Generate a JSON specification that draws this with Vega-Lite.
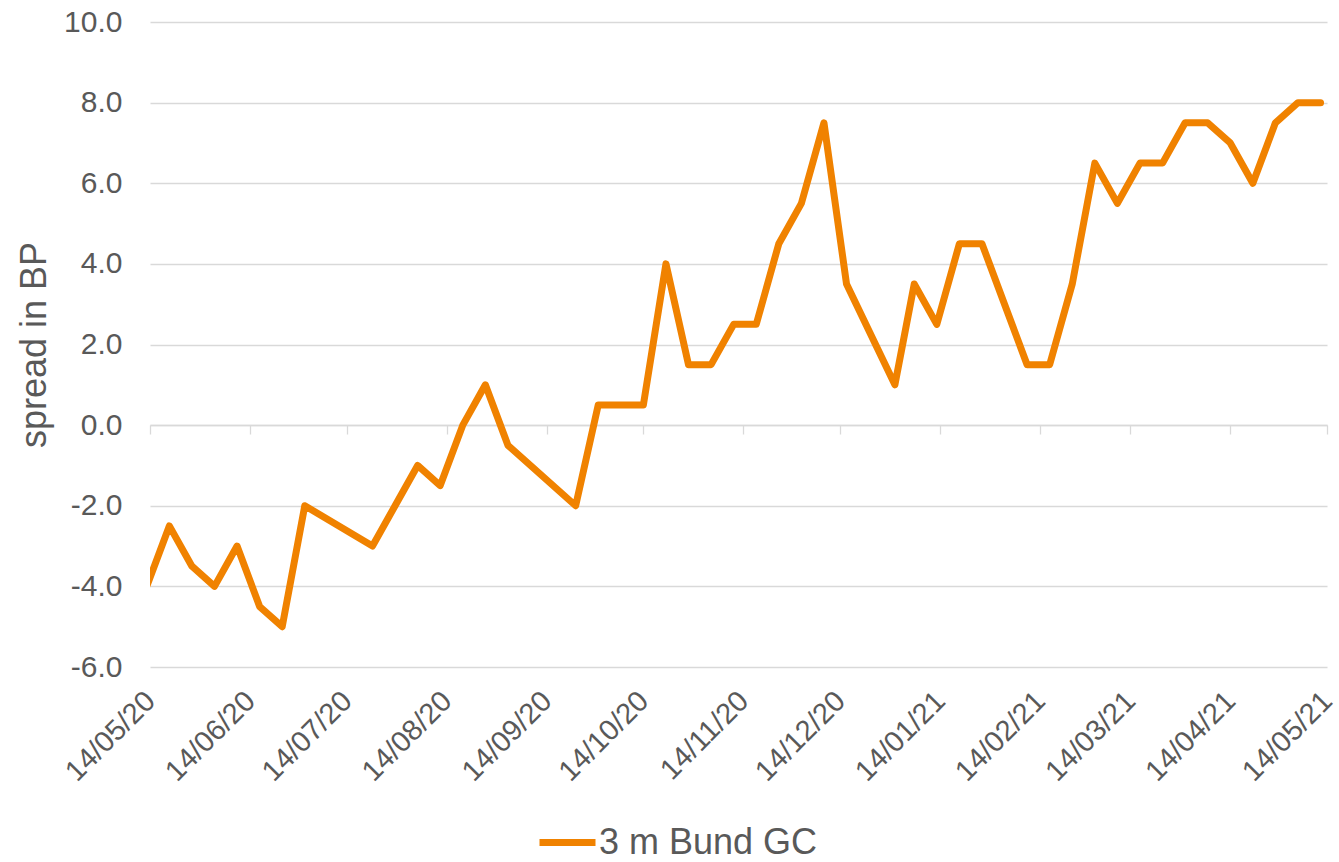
{
  "$schema": "https://vega.github.io/schema/vega-lite/v6.json",
  "width": 1177,
  "height": 645,
  "autosize": {"type": "none"},
  "padding": {"left": 150, "top": 22, "right": 12, "bottom": 195},
  "background": "white",
  "config": {
    "font": "Liberation Sans",
    "view": {"stroke": null}
  },
  "data": {
    "values": [
      {"date": "2020-05-13", "spread": -4},
      {"date": "2020-05-20", "spread": -2.5},
      {"date": "2020-05-27", "spread": -3.5},
      {"date": "2020-06-03", "spread": -4},
      {"date": "2020-06-10", "spread": -3},
      {"date": "2020-06-17", "spread": -4.5},
      {"date": "2020-06-24", "spread": -5},
      {"date": "2020-07-01", "spread": -2},
      {"date": "2020-07-22", "spread": -3},
      {"date": "2020-07-29", "spread": -2},
      {"date": "2020-08-05", "spread": -1},
      {"date": "2020-08-12", "spread": -1.5},
      {"date": "2020-08-19", "spread": 0},
      {"date": "2020-08-26", "spread": 1},
      {"date": "2020-09-02", "spread": -0.5},
      {"date": "2020-09-23", "spread": -2},
      {"date": "2020-09-30", "spread": 0.5},
      {"date": "2020-10-07", "spread": 0.5},
      {"date": "2020-10-14", "spread": 0.5},
      {"date": "2020-10-21", "spread": 4},
      {"date": "2020-10-28", "spread": 1.5},
      {"date": "2020-11-04", "spread": 1.5},
      {"date": "2020-11-11", "spread": 2.5},
      {"date": "2020-11-18", "spread": 2.5},
      {"date": "2020-11-25", "spread": 4.5},
      {"date": "2020-12-02", "spread": 5.5},
      {"date": "2020-12-09", "spread": 7.5},
      {"date": "2020-12-16", "spread": 3.5},
      {"date": "2020-12-31", "spread": 1},
      {"date": "2021-01-06", "spread": 3.5},
      {"date": "2021-01-13", "spread": 2.5},
      {"date": "2021-01-20", "spread": 4.5},
      {"date": "2021-01-27", "spread": 4.5},
      {"date": "2021-02-03", "spread": 3},
      {"date": "2021-02-10", "spread": 1.5},
      {"date": "2021-02-17", "spread": 1.5},
      {"date": "2021-02-24", "spread": 3.5},
      {"date": "2021-03-03", "spread": 6.5},
      {"date": "2021-03-10", "spread": 5.5},
      {"date": "2021-03-17", "spread": 6.5},
      {"date": "2021-03-24", "spread": 6.5},
      {"date": "2021-03-31", "spread": 7.5},
      {"date": "2021-04-07", "spread": 7.5},
      {"date": "2021-04-14", "spread": 7},
      {"date": "2021-04-21", "spread": 6},
      {"date": "2021-04-28", "spread": 7.5},
      {"date": "2021-05-05", "spread": 8},
      {"date": "2021-05-12", "spread": 8}
    ]
  },
  "encoding": {
    "y": {
      "field": "spread",
      "type": "quantitative",
      "scale": {"domain": [-6, 10], "nice": false, "zero": false},
      "axis": {
        "title": "spread in BP",
        "values": [-6, -4, -2, 0, 2, 4, 6, 8, 10],
        "labelExpr": "(datum.value < 0 ? '-' : '') + format(abs(datum.value), '.1f')",
        "labelFontSize": 30,
        "labelColor": "#595959",
        "labelPadding": 28,
        "ticks": false,
        "tickSize": 0,
        "domain": false,
        "grid": true,
        "gridColor": "#D9D9D9",
        "gridWidth": 1.3,
        "titleFontSize": 36,
        "titleFontWeight": "normal",
        "titleColor": "#595959",
        "titlePadding": 10
      }
    }
  },
  "layer": [
    {
      "mark": {"type": "line", "strokeOpacity": 0, "clip": true},
      "encoding": {
        "x": {
          "field": "date",
          "type": "temporal",
          "scale": {
            "type": "utc",
            "domain": [
              {"year": 2020, "month": 5, "date": 14, "utc": true},
              {"year": 2021, "month": 5, "date": 14, "utc": true}
            ],
            "nice": false
          },
          "axis": {
            "orient": "bottom",
            "title": null,
            "values": [
              {"year": 2020, "month": 5, "date": 14, "utc": true},
              {"year": 2020, "month": 6, "date": 14, "utc": true},
              {"year": 2020, "month": 7, "date": 14, "utc": true},
              {"year": 2020, "month": 8, "date": 14, "utc": true},
              {"year": 2020, "month": 9, "date": 14, "utc": true},
              {"year": 2020, "month": 10, "date": 14, "utc": true},
              {"year": 2020, "month": 11, "date": 14, "utc": true},
              {"year": 2020, "month": 12, "date": 14, "utc": true},
              {"year": 2021, "month": 1, "date": 14, "utc": true},
              {"year": 2021, "month": 2, "date": 14, "utc": true},
              {"year": 2021, "month": 3, "date": 14, "utc": true},
              {"year": 2021, "month": 4, "date": 14, "utc": true},
              {"year": 2021, "month": 5, "date": 14, "utc": true}
            ],
            "format": "%d/%m/%y",
            "labelAngle": -45,
            "labelAlign": "right",
            "labelBaseline": "middle",
            "labelFontSize": 29,
            "labelColor": "#595959",
            "labelPadding": 29,
            "labelOverlap": false,
            "labelFlush": false,
            "labelBound": false,
            "ticks": false,
            "tickSize": 0,
            "domain": false,
            "grid": false
          }
        }
      }
    },
    {
      "mark": {"type": "line", "strokeWidth": 7, "strokeJoin": "round", "strokeCap": "round", "clip": true},
      "encoding": {
        "x": {
          "field": "date",
          "type": "temporal",
          "axis": {
            "orient": "top",
            "offset": -403,
            "title": null,
            "values": [
              {"year": 2020, "month": 5, "date": 14, "utc": true},
              {"year": 2020, "month": 6, "date": 14, "utc": true},
              {"year": 2020, "month": 7, "date": 14, "utc": true},
              {"year": 2020, "month": 8, "date": 14, "utc": true},
              {"year": 2020, "month": 9, "date": 14, "utc": true},
              {"year": 2020, "month": 10, "date": 14, "utc": true},
              {"year": 2020, "month": 11, "date": 14, "utc": true},
              {"year": 2020, "month": 12, "date": 14, "utc": true},
              {"year": 2021, "month": 1, "date": 14, "utc": true},
              {"year": 2021, "month": 2, "date": 14, "utc": true},
              {"year": 2021, "month": 3, "date": 14, "utc": true},
              {"year": 2021, "month": 4, "date": 14, "utc": true},
              {"year": 2021, "month": 5, "date": 14, "utc": true}
            ],
            "labels": false,
            "ticks": true,
            "tickSize": -9,
            "tickColor": "#D9D9D9",
            "tickWidth": 1.3,
            "domain": true,
            "domainColor": "#D9D9D9",
            "domainWidth": 1.3,
            "grid": false
          }
        },
        "color": {
          "datum": "3 m Bund GC",
          "type": "nominal",
          "scale": {"range": ["#F08200"]},
          "legend": {
            "orient": "none",
            "legendX": 386,
            "legendY": 789,
            "direction": "horizontal",
            "title": null,
            "symbolType": "stroke",
            "symbolSize": 3136,
            "symbolStrokeWidth": 7,
            "labelFontSize": 36,
            "labelLimit": 0,
            "labelColor": "#595959",
            "labelOffset": 0
          }
        }
      }
    }
  ],
  "resolve": {"axis": {"x": "independent"}}
}
